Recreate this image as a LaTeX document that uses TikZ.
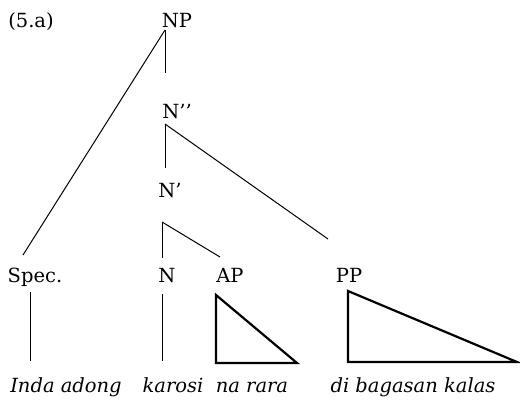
\documentclass[tikz,border=0pt]{standalone}
\usepackage{fontspec}
\setmainfont{DejaVu Serif}
\begin{document}
\begin{tikzpicture}[x=1pt,y=-1pt,
  lbl/.style={inner sep=0pt, anchor=base, font=\fontsize{19.5}{22}\selectfont},
  word/.style={inner sep=0pt, anchor=base, font=\fontsize{19.5}{22}\selectfont\itshape},
  branch/.style={line width=1pt},
  tri/.style={line width=2.2pt, line join=miter}]
\useasboundingbox (0,0) rectangle (520,400);
% labels
\node[lbl] (ex) at (31,27) {(5.a)};
\node[lbl] (np) at (177,27) {NP};
\node[lbl] (nbb) at (177,118) {N’’};
\node[lbl] (nb) at (170,197) {N’};
\node[lbl] (spec) at (35,282) {Spec.};
\node[lbl] (n) at (167,282) {N};
\node[lbl] (ap) at (230,282) {AP};
\node[lbl] (pp) at (349,282) {PP};
\node[word] (w1) at (66,392) {Inda adong};
\node[word] (w2) at (173,392) {karosi};
\node[word] (w3) at (252,392) {na rara};
\node[word] (w4) at (413,392) {di bagasan kalas};
% branch ends
\coordinate (np-b) at (165,30);
\coordinate (nbb-t) at (165,73);
\coordinate (nbb-b) at (165,124);
\coordinate (nb-t) at (165,168);
\coordinate (nb-b) at (162,222);
\coordinate (n-t) at (162,258);
\coordinate (ap-t) at (220,257);
\coordinate (spec-t) at (23,255);
\coordinate (pp-t) at (328,239);
\coordinate (spec-b) at (30,292);
\coordinate (w1-t) at (30,361);
\coordinate (n-b) at (162,294);
\coordinate (w2-t) at (162,361);
% branches
\draw[branch] (np-b) -- (nbb-t);
\draw[branch] (np-b) -- (spec-t);
\draw[branch] (nbb-b) -- (nb-t);
\draw[branch] (nbb-b) -- (pp-t);
\draw[branch] (nb-b) -- (n-t);
\draw[branch] (nb-b) -- (ap-t);
\draw[branch] (spec-b) -- (w1-t);
\draw[branch] (n-b) -- (w2-t);
% triangles
\coordinate (apA) at (216,295);
\coordinate (apB) at (216,363);
\coordinate (apC) at (297,363);
\draw[tri] (apA) -- (apB) -- (apC) -- cycle;
\coordinate (ppA) at (348,291);
\coordinate (ppB) at (348,362);
\coordinate (ppC) at (517,362);
\draw[tri] (ppA) -- (ppB) -- (ppC) -- cycle;
\end{tikzpicture}
\end{document}
